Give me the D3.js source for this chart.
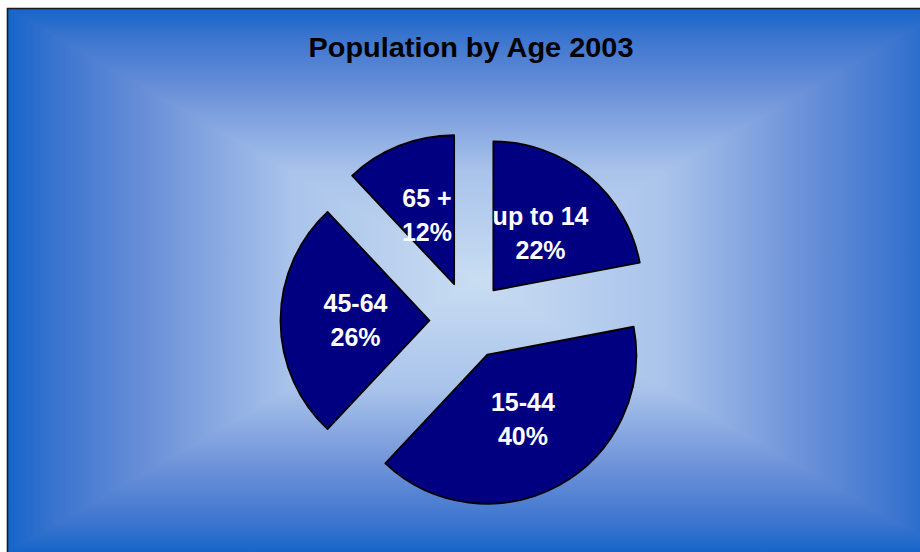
<!DOCTYPE html>
<html>
<head>
<meta charset="utf-8">
<script src="https://cdn.jsdelivr.net/npm/d3@7"></script>
<style>
  html, body { margin: 0; padding: 0; background: #fff; }
  svg { display: block; }
</style>
</head>
<body>
<svg id="chart" width="920" height="552"></svg>
<script>
// ---- data ----
const title = "Population by Age 2003";
const categories = ["up to 14", "15-44", "45-64", "65 +"];
const values = [22, 40, 26, 12];
const percentLabels = ["22%", "40%", "26%", "12%"];

// ---- layout ----
const W = 920, H = 552;
const box = { x0: 8, y0: 9, x1: 948, y1: 552 };
const gc = { x: 478, y: 280 };   // gradient centre
const pieC = { x: 468.5, y: 320.5 };
const R = 149, explode = 39, labelR = 74;

const svg = d3.select("#chart");
const defs = svg.append("defs");

const stops = [
  [0, "#1565c9"], [0.1, "#3a74ce"], [0.3, "#6b90d8"],
  [0.6, "#a9c3ea"], [1, "#c9ddf2"]
];
function grad(id, x1, y1, x2, y2) {
  const g = defs.append("linearGradient").attr("id", id)
    .attr("gradientUnits", "userSpaceOnUse")
    .attr("x1", x1).attr("y1", y1).attr("x2", x2).attr("y2", y2);
  stops.forEach(s => g.append("stop").attr("offset", s[0]).attr("stop-color", s[1]));
}
grad("gTop", 0, box.y0, 0, gc.y);
grad("gBot", 0, box.y1, 0, gc.y);
grad("gLeft", box.x0, 0, gc.x, 0);
grad("gRight", box.x1, 0, gc.x, 0);

const bg = svg.append("g");
bg.append("rect").attr("x", box.x0).attr("y", box.y0)
  .attr("width", box.x1 - box.x0).attr("height", gc.y - box.y0).attr("fill", "url(#gTop)");
bg.append("rect").attr("x", box.x0).attr("y", gc.y - 0.5)
  .attr("width", box.x1 - box.x0).attr("height", box.y1 - gc.y + 0.5).attr("fill", "url(#gBot)");
bg.append("path").attr("fill", "url(#gLeft)")
  .attr("d", `M${box.x0},${box.y0}L${gc.x},${gc.y}L${box.x0},${box.y1}Z`);
bg.append("path").attr("fill", "url(#gRight)")
  .attr("d", `M${box.x1},${box.y0}L${gc.x},${gc.y}L${box.x1},${box.y1}Z`);

// border
svg.append("path").attr("fill", "none").attr("stroke", "#1a1a1a").attr("stroke-width", 1.6)
  .attr("d", `M${box.x0 - 0.5},${H + 5}V${box.y0 - 0.5}H${W + 5}`);

// title
svg.append("text")
  .attr("x", 471).attr("y", 57)
  .attr("text-anchor", "middle")
  .attr("font-family", "Arial, 'Liberation Sans', sans-serif")
  .attr("font-weight", "bold").attr("font-size", 28)
  .attr("textLength", 325).attr("lengthAdjust", "spacingAndGlyphs")
  .attr("fill", "#000")
  .text(title);

// pie
const data = categories.map((c, i) => ({ cat: c, value: values[i], pct: percentLabels[i] }));
const pie = d3.pie().sort(null).value(d => d.value).startAngle(0).endAngle(2 * Math.PI);
const arc = d3.arc().innerRadius(0).outerRadius(R);
const arcs = pie(data);

const pg = svg.append("g").attr("transform", `translate(${pieC.x},${pieC.y})`);
const slices = pg.selectAll("g.slice").data(arcs).enter().append("g")
  .attr("class", "slice")
  .attr("transform", d => {
    const a = (d.startAngle + d.endAngle) / 2;
    return `translate(${explode * Math.sin(a)},${-explode * Math.cos(a)})`;
  });

slices.append("path")
  .attr("d", arc)
  .attr("fill", "#000080")
  .attr("stroke", "#000")
  .attr("stroke-width", 1.8)
  .attr("stroke-linejoin", "round");

const lbl = slices.append("text")
  .attr("text-anchor", "middle")
  .attr("font-family", "Arial, 'Liberation Sans', sans-serif")
  .attr("font-weight", "bold").attr("font-size", 25)
  .attr("fill", "#fff")
  .attr("transform", d => {
    const a = (d.startAngle + d.endAngle) / 2;
    return `translate(${labelR * Math.sin(a)},${-labelR * Math.cos(a)})`;
  });
lbl.append("tspan").attr("x", 0).attr("y", -17 + 8.8).text(d => d.data.cat);
lbl.append("tspan").attr("x", 0).attr("y", 17 + 8.8).text(d => d.data.pct);
</script>
</body>
</html>
